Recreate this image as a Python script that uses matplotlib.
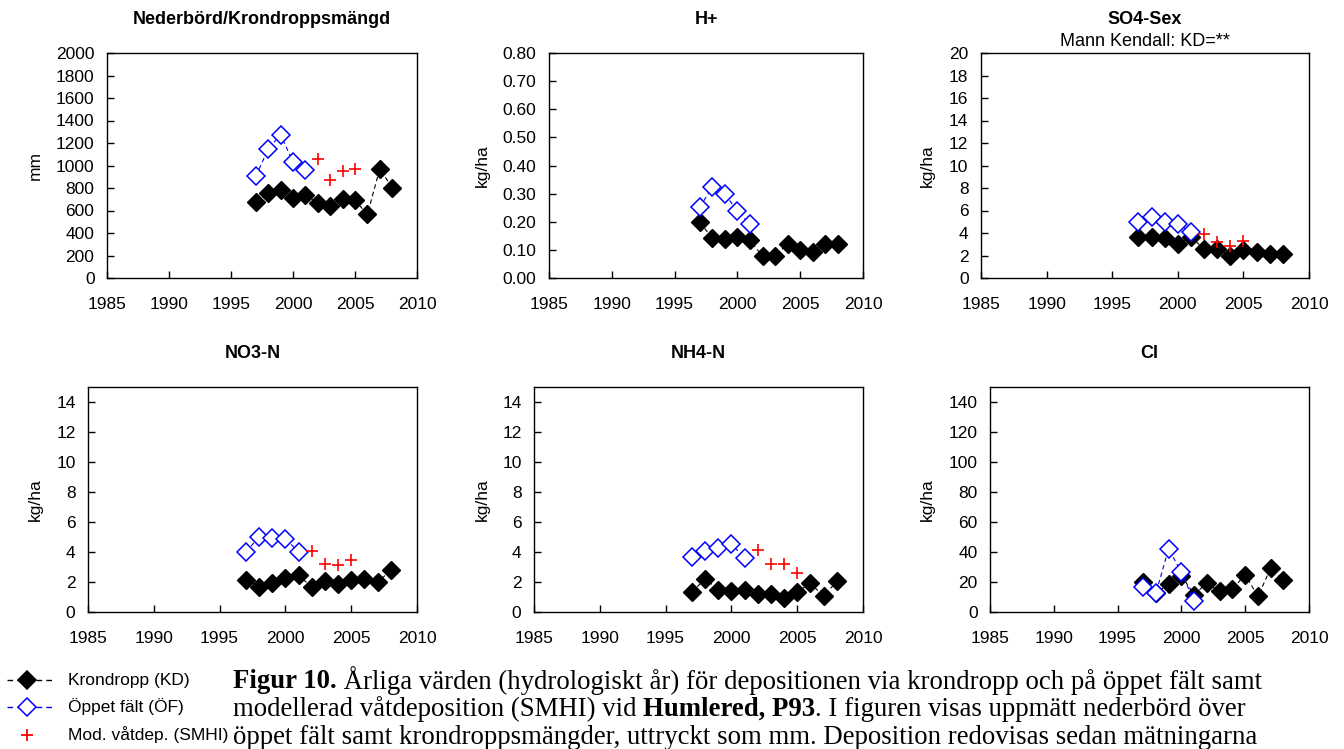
import matplotlib
matplotlib.use("Agg")
import matplotlib.pyplot as plt
from matplotlib.ticker import FormatStrFormatter

plt.rcParams['font.family'] = ['Liberation Sans', 'DejaVu Sans']

# years
years_kd = [1997, 1998, 1999, 2000, 2001, 2002, 2003, 2004, 2005, 2006, 2007, 2008]
years_of = [1997, 1998, 1999, 2000, 2001]
years_smhi = [2002, 2003, 2004, 2005]

# Nederbörd / krondroppsmängd (mm)
prec_kd = [680, 755, 785, 712, 740, 667, 637, 702, 690, 565, 972, 802]
prec_of = [904, 1147, 1274, 1031, 957]
prec_smhi = [1061, 874, 948, 972]

# H+ (kg/ha)
h_kd = [0.198, 0.142, 0.139, 0.145, 0.134, 0.077, 0.077, 0.122, 0.098, 0.092, 0.122, 0.122]
h_of = [0.251, 0.324, 0.300, 0.237, 0.192]

# SO4-Sex (kg/ha)
so4_kd = [3.64, 3.64, 3.56, 3.05, 3.64, 2.58, 2.58, 1.99, 2.46, 2.28, 2.16, 2.16]
so4_of = [4.95, 5.42, 4.95, 4.80, 4.09]
so4_smhi = [3.91, 3.20, 2.81, 3.26]

# NO3-N (kg/ha)
no3_kd = [2.16, 1.67, 1.93, 2.27, 2.44, 1.67, 2.04, 1.87, 2.16, 2.22, 1.98, 2.78]
no3_of = [4.00, 5.00, 4.93, 4.89, 4.00]
no3_smhi = [4.09, 3.20, 3.16, 3.44]

# NH4-N (kg/ha)
nh4_kd = [1.31, 2.22, 1.49, 1.38, 1.49, 1.20, 1.20, 0.93, 1.31, 1.93, 1.04, 2.04]
nh4_of = [3.67, 4.09, 4.27, 4.53, 3.60]
nh4_smhi = [4.11, 3.22, 3.22, 2.60]

# Cl (kg/ha)
cl_kd = [19.8, 12.5, 18.7, 24.2, 11.6, 19.3, 13.8, 15.3, 24.9, 10.4, 29.3, 21.6]
cl_of = [16.4, 12.5, 42.2, 26.4, 7.1]

W, H = 1344, 749
fig = plt.figure(figsize=(W / 100, H / 100), dpi=100)

# (title, ylabel, kd, of, smhi, ymax, ytick step, n ticks, fmt, pixel box l,t,r,b, ylabel x px)
panels = [
    ("Nederbörd/Krondroppsmängd", "mm", prec_kd, prec_of, prec_smhi, 2000, 200, 10, "%d",
     (107, 53, 417, 278), 35),
    ("H+", "kg/ha", h_kd, h_of, None, 0.8, 0.1, 8, "%.2f", (549, 53, 863, 278), 482),
    ("SO4-Sex", "kg/ha", so4_kd, so4_of, so4_smhi, 20, 2, 10, "%d", (981, 53, 1309, 278), 927),
    ("NO3-N", "kg/ha", no3_kd, no3_of, no3_smhi, 15, 2, 7, "%d", (88, 387, 417, 612), 35),
    ("NH4-N", "kg/ha", nh4_kd, nh4_of, nh4_smhi, 15, 2, 7, "%d", (534, 387, 863, 612), 482),
    ("Cl", "kg/ha", cl_kd, cl_of, None, 150, 20, 7, "%d", (990, 387, 1309, 612), 927),
]

dash = (0, (4, 3))
for title, ylab, kd, of, smhi, ymax, step, nt, fmt, (l, t, r, b), ylx in panels:
    ax = fig.add_axes([l / W, 1 - b / H, (r - l) / W, (b - t) / H])
    ax.plot(years_kd, kd, linestyle=dash, color='black', lw=0.8, marker='D',
            markersize=9.5, markerfacecolor='black', markeredgecolor='black', zorder=3)
    ax.plot(years_of, of, linestyle=dash, color='#0000ff', lw=0.8, marker='D',
            markersize=9, markerfacecolor='white', markeredgecolor='#0000ff',
            markeredgewidth=1.1, zorder=4)
    if smhi is not None:
        ax.plot(years_smhi, smhi, linestyle='none', marker='+', markersize=8,
                markeredgewidth=1.2, color='#ff0000', zorder=5)
    ax.set_xlim(1985, 2010)
    ax.set_ylim(0, ymax)
    ax.set_xticks(range(1985, 2011, 5))
    ax.set_yticks([i * step for i in range(nt + 1)])
    ax.yaxis.set_major_formatter(FormatStrFormatter(fmt))
    ax.tick_params(axis='x', direction='in', length=5, width=1, labelsize=12.5, pad=14)
    ax.tick_params(axis='y', direction='in', length=5, width=1, labelsize=12.5, pad=9)
    for s in ax.spines.values():
        s.set_linewidth(1)
    ax.set_ylabel(ylab, fontsize=12.5)
    ax.yaxis.label.set_va('center')
    ax.yaxis.set_label_coords((ylx - l) / (r - l), 0.5)
    ax.text(0.5, 1 + 33 / (b - t), title, transform=ax.transAxes, ha='center',
            va='center', fontsize=13, fontweight='bold')
    if title == "SO4-Sex":
        ax.text(0.5, 1 + 11 / (b - t), "Mann Kendall: KD=**", transform=ax.transAxes,
                ha='center', va='center', fontsize=13)

# legend at the lower left
leg_rows = [(680, 'black', 'black', 'D', "Krondropp (KD)"),
            (707, '#0000ff', 'white', 'D', "Öppet fält (ÖF)"),
            (735, '#ff0000', None, '+', "Mod. våtdep. (SMHI)")]
lax = fig.add_axes([0, 0, 1, 1], facecolor='none')
lax.set_xlim(0, W)
lax.set_ylim(H, 0)
lax.axis('off')
for y, col, fc, mk, lab in leg_rows:
    if mk == 'D':
        lax.plot([7, 52], [y, y], linestyle=(0, (4, 3)), color=col, lw=1)
        lax.plot([27], [y], marker='D', markersize=9.5, color=col,
                 markerfacecolor=fc, markeredgewidth=1.1, linestyle='none')
    else:
        lax.plot([27], [y], marker='+', markersize=9, markeredgewidth=1.3, color=col,
                 linestyle='none')
    lax.text(68, y, lab, fontsize=12.5, ha='left', va='center')

# caption with mixed bold parts
cap_lines = [
    [("Figur 10.", 'bold'), (" Årliga värden (hydrologiskt år) för depositionen via krondropp och på öppet fält samt", 'normal')],
    [("modellerad våtdeposition (SMHI) vid ", 'normal'), ("Humlered, P93", 'bold'),
     (". I figuren visas uppmätt nederbörd över", 'normal')],
    [("öppet fält samt krondroppsmängder, uttryckt som mm. Deposition redovisas sedan mätningarna", 'normal')],
]
cap_y = [681, 709, 737]
renderer = fig.canvas.get_renderer()
for parts, y in zip(cap_lines, cap_y):
    x = 233
    for txt, wt in parts:
        t = lax.text(x, y, txt, fontsize=19.3, fontweight=wt, ha='left', va='center',
                     family=['Liberation Serif', 'DejaVu Serif'])
        bb = t.get_window_extent(renderer=renderer)
        x += bb.width

fig.savefig("out.png", dpi=100)
